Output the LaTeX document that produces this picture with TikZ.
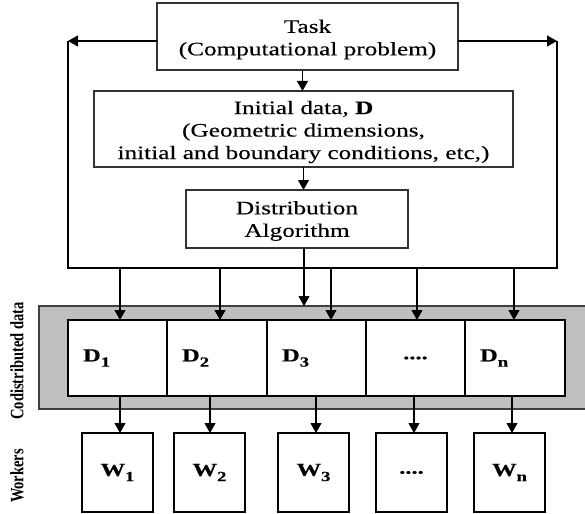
\documentclass[tikz,border=0pt]{standalone}
\usepackage{fontspec}
\usepackage{graphicx}
\setmainfont{Liberation Serif}[FakeStretch=1.33, FakeBold=0.3]
\newfontfamily\sidefont{Liberation Serif}
\usetikzlibrary{arrows.meta}

% lowered index for the bold cell labels
\newcommand\lowidx[1]{\raisebox{-0.28em}{\fontsize{14}{14}\selectfont\bfseries #1}}

\tikzset{
  every node/.style={inner sep=0pt, outer sep=0pt},
  topbox/.style={draw=black!80, line width=1.2pt, fill=white},
  toptext/.style={align=center, font=\fontsize{19}{22.5}\selectfont},
  cellbox/.style={draw=black, line width=1.8pt, minimum height=76pt,
                  inner xsep=15pt, align=left,
                  font=\fontsize{18.5}{20}\selectfont\bfseries},
  wbox/.style={draw=black, line width=1.8pt, fill=white, minimum width=71pt,
               minimum height=79pt, font=\fontsize{18.5}{20}\selectfont\bfseries},
  band/.style={draw=black!75, line width=1.4pt, fill=black!25,
               minimum width=560pt, minimum height=103pt},
  sidelabel/.style={rotate=90, font=\sidefont\bfseries\fontsize{14.5}{14.5}\selectfont},
  arr/.style={-{Triangle[width=11pt,length=10pt]}, line width=1.1pt},
  wire/.style={line width=1.1pt},
}

\begin{document}
\begin{tikzpicture}[x=1pt, y=-1pt]
\useasboundingbox (0,0) rectangle (585,513);

% problem definition chain
\node[topbox, minimum width=301pt, minimum height=67pt] (task) at (307.5,36.5) {};
\node[toptext] (taskt) at ([yshift=-3pt]task.center) {Task\\(Computational problem)};
\node[topbox, minimum width=419pt, minimum height=76pt] (init) at (303.5,129) {};
\node[toptext] (initt) at ([yshift=-3pt]init.center)
  {Initial data, \textbf{D}\\(Geometric dimensions,\\initial and boundary conditions, etc,)};
\node[topbox, minimum width=222pt, minimum height=58pt] (dist) at (297,219) {};
\node[toptext] (distt) at ([yshift=-2pt]dist.center) {Distribution\\Algorithm};

% shared data band with its cells (white ground under the cells)
\node[band] (band) at (319,357.5) {};
\fill[white] (68,320) rectangle (565,396);
\node[cellbox, text width=69pt] (d1) at (117.5,358) {D\lowidx{1}};
\node[cellbox, text width=70pt] (d2) at (217,358) {D\lowidx{2}};
\node[cellbox, text width=69pt] (d3) at (316.5,358) {D\lowidx{3}};
\node[cellbox, text width=69pt, align=center] (dd) at (415.5,358) {....};
\node[cellbox, text width=70pt] (dn) at (515,358) {D\lowidx{n}};

% workers
\node[wbox] (w1) at (117.5,472.5) {W\lowidx{1}};
\node[wbox] (w2) at (209.5,472.5) {W\lowidx{2}};
\node[wbox] (w3) at (313.5,472.5) {W\lowidx{3}};
\node[wbox] (wd) at (411.5,472.5) {....};
\node[wbox] (wn) at (509.5,472.5) {W\lowidx{n}};

% side captions
\node[sidelabel] (cap1) at (17,361) {\scalebox{1}[1.3]{Codistributed data}};
\node[sidelabel] (cap2) at (17,476) {\scalebox{1}[1.3]{Workers}};

% feedback loop around the chain
\coordinate (cl) at (68,41);
\coordinate (cr) at (557,41);
\coordinate (bl) at (68,268);
\coordinate (br) at (557,268);
\draw[wire] (cl) -- (bl) -- (br) -- (cr);
\draw[arr] (cl -| task.west) -- (cl);
\draw[arr] (cr -| task.east) -- (cr);

% chain arrows
\draw[arr] ([xshift=-5pt]task.south) -- ([xshift=-5pt]task.south |- init.north);
\draw[arr] (init.south) -- (init.south |- dist.north);
\draw[arr] ([xshift=7pt]dist.south) -- ([xshift=7pt]dist.south |- band.north);

% taps from the loop into the cells
\coordinate (t1) at (120,268);
\coordinate (t2) at (220,268);
\coordinate (t3) at (331,268);
\coordinate (t4) at (417,268);
\coordinate (t5) at (514,268);
\draw[arr] (t1) -- (t1 |- d1.north);
\draw[arr] (t2) -- (t2 |- d2.north);
\draw[arr] (t3) -- (t3 |- d3.north);
\draw[arr] (t4) -- (t4 |- dd.north);
\draw[arr] (t5) -- (t5 |- dn.north);

% cells to workers
\draw[arr] ([xshift=2.5pt]w1.north |- d1.south) -- ([xshift=2.5pt]w1.north);
\draw[arr] ([xshift=0.5pt]w2.north |- d2.south) -- ([xshift=0.5pt]w2.north);
\draw[arr] ([xshift=2.5pt]w3.north |- d3.south) -- ([xshift=2.5pt]w3.north);
\draw[arr] ([xshift=2.5pt]wd.north |- dd.south) -- ([xshift=2.5pt]wd.north);
\draw[arr] ([xshift=2.5pt]wn.north |- dn.south) -- ([xshift=2.5pt]wn.north);
\end{tikzpicture}
\end{document}
